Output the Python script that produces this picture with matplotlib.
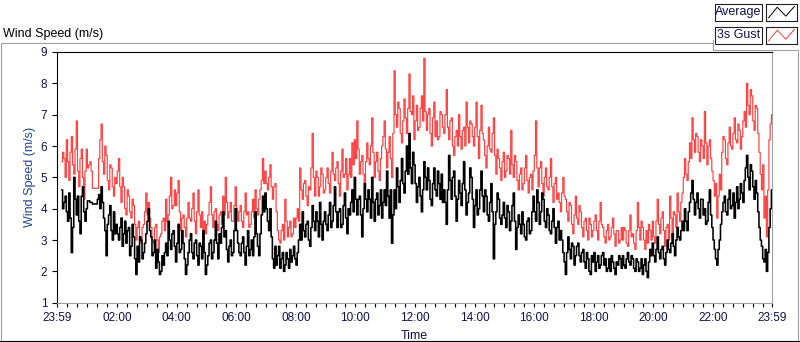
import matplotlib
matplotlib.use("Agg")
import matplotlib.pyplot as plt
from matplotlib.lines import Line2D
from matplotlib.patches import Rectangle
import numpy as np

plt.rcParams['font.family'] = ['Liberation Sans', 'DejaVu Sans']

# --- dados (minutos após 23:59) ---
# pontos a cada 5 min (A) e pontos intermediários +2,5 min (B)
TEMPO_A = np.arange(10, 1441, 5)

MEDIA_A = [
    4.6, 4.2, 3.9, 4.5, 2.6, 5.0, 3.8, 3.6, 4.4, 3.9,
    4.0, 4.25, 4.2, 4.15, 4.15, 4.45, 4.7, 3.7, 2.5, 3.8, 3.3, 3.9,
    3.5, 3.0, 3.7, 3.2, 2.9, 3.4, 2.8, 3.1, 1.9, 2.3, 3.0, 2.6,
    3.2, 4.0, 3.1, 2.6, 2.1, 2.3, 2.0, 2.2, 2.9, 3.6, 2.7, 3.3,
    2.3, 3.5, 2.7, 2.9, 1.9, 2.6, 3.2, 2.4, 3.0, 2.2, 2.8, 3.3,
    1.9, 2.5, 3.0, 2.6, 3.6, 2.4, 2.9, 3.9, 3.3, 2.3, 3.0, 2.6,
    4.0, 2.9, 2.5, 3.1, 2.2, 3.3, 2.7, 2.5, 3.9, 2.8, 3.2, 4.4,
    4.5, 3.6, 4.0, 2.4, 2.8, 2.5, 2.1, 2.6, 2.2, 2.4, 2.7, 2.5,
    2.4, 2.6, 3.5, 3.9, 3.1, 3.6, 2.8, 4.1, 3.3, 3.6, 4.2, 3.0,
    3.9, 3.3, 4.2, 3.6, 4.7, 3.4, 4.0, 3.5, 4.5, 3.2, 3.8, 4.6,
    5.0, 3.8, 4.4, 3.1, 4.8, 3.9, 4.3, 5.0, 3.6, 4.5, 4.1, 3.7,
    4.6, 5.2, 3.7, 2.9, 4.6, 5.3, 4.2, 5.6, 4.5, 6.0, 6.4, 4.8,
    5.4, 4.2, 5.0, 3.9, 5.5, 4.6, 4.9, 4.1, 5.3, 4.4, 4.8, 5.1,
    4.6, 3.5, 5.7, 4.3, 5.2, 3.6, 4.9, 4.1, 5.5, 3.8, 4.5, 5.0,
    3.4, 4.6, 4.0, 5.2, 3.9, 4.4, 3.6, 4.8, 2.4, 3.9, 4.3, 3.5,
    4.2, 3.4, 3.9, 3.6, 4.5, 2.7, 3.8, 3.2, 3.5, 3.0, 3.7, 3.3,
    4.4, 3.6, 4.2, 3.9, 4.3, 3.4, 3.8, 3.2, 4.0, 2.9, 3.6, 3.3,
    2.6, 1.9, 3.1, 2.4, 2.8, 2.5, 2.9, 2.3, 2.7, 2.1, 2.4, 1.9,
    2.3, 2.0, 2.5, 2.2, 2.6, 2.4, 2.1, 2.0, 2.3, 1.9, 2.2, 2.4,
    2.5, 2.1, 2.6, 2.2, 2.4, 2.0, 2.3, 2.1, 1.9, 2.4, 1.8, 2.7,
    2.9, 2.3, 3.1, 2.4, 2.8, 2.2, 3.0, 2.6, 3.2, 2.5, 3.4, 3.0,
    3.6, 4.0, 3.3, 4.2, 4.9, 3.8, 4.5, 3.7, 4.3, 4.0, 3.6, 4.6,
    3.4, 2.7, 2.2, 3.0, 3.9, 4.4, 3.8, 4.6, 4.1, 3.7, 4.7, 4.3,
    4.5, 4.9, 5.7, 4.6, 5.2, 4.3, 4.5, 3.4, 2.8, 2.3, 2.0, 3.4, 4.6,
]

MEDIA_B = [
    4.0, 4.4, 3.6, 3.7, 3.4, 4.3, 4.4, 3.2, 4.7, 3.6,
    4.25, 4.2, 4.15, 4.15, 4.3, 4.0, 4.2, 3.3, 3.5, 4.1, 3.0, 3.2,
    3.2, 3.4, 2.8, 3.6, 3.3, 2.5, 3.5, 2.4, 2.8, 3.1, 2.4, 2.9,
    3.6, 3.3, 2.5, 3.0, 2.7, 1.9, 2.5, 2.6, 2.5, 3.0, 3.2, 2.8,
    2.9, 2.6, 3.3, 2.4, 2.2, 3.0, 2.6, 2.9, 2.5, 2.9, 2.4, 2.6,
    2.2, 2.9, 2.4, 3.0, 2.9, 3.2, 3.4, 3.1, 2.7, 2.8, 2.5, 3.3,
    3.3, 2.6, 2.9, 2.6, 2.8, 2.5, 3.0, 3.1, 3.2, 2.5, 3.8, 3.9,
    4.0, 3.3, 3.1, 2.1, 2.2, 2.8, 2.4, 2.0, 2.6, 2.1, 2.3, 2.8,
    2.2, 3.0, 3.0, 3.3, 3.5, 3.0, 3.4, 3.6, 3.9, 3.1, 3.5, 3.6,
    3.5, 3.8, 3.4, 4.1, 3.9, 3.9, 3.4, 4.1, 3.7, 4.0, 4.2, 3.9,
    4.3, 4.3, 3.8, 4.0, 4.3, 4.6, 3.7, 4.2, 4.3, 3.8, 4.6, 4.2,
    4.1, 4.4, 4.6, 3.8, 4.0, 4.7, 4.9, 4.8, 5.2, 5.1, 5.3, 5.8,
    4.8, 4.7, 4.4, 4.6, 5.0, 5.3, 4.3, 4.8, 4.6, 5.2, 4.3, 4.2,
    4.2, 4.6, 4.9, 5.0, 4.4, 4.3, 4.5, 4.8, 4.6, 4.2, 5.3, 4.3,
    4.1, 3.8, 4.6, 4.4, 4.6, 3.8, 4.2, 3.9, 3.5, 4.5, 3.7, 3.8,
    3.7, 4.1, 3.3, 4.1, 3.6, 3.4, 3.5, 3.9, 3.1, 3.6, 3.2, 3.9,
    3.9, 4.6, 3.5, 4.5, 3.6, 4.0, 3.3, 3.6, 3.4, 3.4, 3.0, 3.0,
    2.3, 2.6, 2.7, 2.9, 2.2, 2.8, 2.5, 2.6, 2.3, 2.6, 2.0, 2.5,
    2.6, 2.3, 2.1, 2.5, 2.2, 2.0, 2.4, 2.5, 2.1, 2.3, 2.5, 2.1,
    2.2, 2.4, 2.3, 2.5, 2.1, 2.4, 2.0, 2.4, 2.2, 2.0, 2.3, 2.5,
    2.5, 2.7, 2.6, 2.7, 2.4, 2.6, 2.7, 2.9, 2.8, 3.0, 3.1, 3.3,
    3.3, 3.6, 3.9, 4.5, 4.3, 4.2, 4.0, 4.3, 3.8, 3.5, 4.2, 3.8,
    3.0, 2.4, 2.7, 3.5, 4.2, 3.9, 4.3, 4.0, 4.5, 4.2, 4.0, 4.8,
    4.2, 5.3, 5.0, 5.4, 4.7, 4.9, 3.9, 3.0, 2.4, 2.7, 2.6, 4.0,
]

RAJADA_A = [
    5.5, 5.6, 6.2, 4.9, 6.3, 5.1, 6.8, 4.7, 5.9, 4.3,
    5.9, 5.4, 5.2, 4.65, 4.65, 5.6, 6.7, 5.1, 5.7, 4.6, 5.3, 4.4,
    4.8, 5.6, 4.2, 4.7, 3.8, 4.4, 3.7, 4.1, 3.0, 3.6, 2.9, 3.5,
    4.5, 4.2, 3.4, 2.9, 3.5, 2.6, 3.2, 3.7, 4.3, 3.8, 5.0, 4.1,
    4.1, 4.9, 3.3, 3.8, 3.1, 4.2, 3.6, 4.5, 3.2, 4.6, 3.4, 3.0,
    3.2, 3.8, 4.7, 3.4, 4.0, 3.3, 3.9, 4.4, 5.0, 3.7, 4.2, 3.6,
    4.7, 3.6, 4.1, 3.4, 4.5, 3.9, 3.5, 4.3, 4.6, 3.8, 4.6, 5.6,
    5.2, 4.6, 5.4, 4.3, 4.8, 3.3, 2.9, 3.5, 4.3, 3.1, 3.6, 3.2,
    3.4, 4.0, 5.3, 4.3, 4.9, 4.1, 4.6, 6.4, 4.4, 5.0, 4.7, 5.1,
    4.6, 5.3, 4.5, 5.8, 4.9, 5.5, 4.4, 5.9, 5.1, 4.6, 5.6, 6.1,
    6.2, 6.8, 5.1, 5.7, 4.8, 6.1, 5.4, 6.9, 5.0, 5.8, 4.9, 6.0,
    6.8, 5.3, 6.3, 5.0, 8.4, 6.6, 7.2, 6.1, 7.5, 6.4, 8.3, 7.0,
    6.2, 7.3, 6.6, 7.6, 8.8, 6.5, 7.2, 6.0, 7.4, 6.8, 6.3, 7.0,
    6.4, 7.8, 6.2, 6.9, 5.7, 6.5, 7.0, 5.9, 6.6, 7.4, 6.1, 6.7,
    6.0, 7.4, 5.6, 7.3, 6.2, 5.3, 6.6, 5.8, 6.9, 5.1, 5.6, 4.9,
    5.8, 5.2, 5.6, 6.5, 5.0, 5.5, 4.6, 5.3, 4.8, 5.7, 4.5, 5.1,
    5.2, 6.8, 4.7, 5.5, 4.4, 5.3, 4.6, 5.6, 4.2, 5.0, 4.5, 3.9,
    5.0, 4.3, 3.6, 4.1, 3.2, 4.4, 3.5, 3.9, 3.1, 3.7, 3.0, 3.5,
    3.3, 3.8, 3.0, 4.2, 3.4, 2.9, 3.5, 3.1, 3.7, 2.8, 3.3, 3.0,
    3.0, 3.3, 2.8, 3.8, 3.2, 2.7, 4.2, 3.0, 3.4, 2.7, 2.9, 3.3,
    3.6, 2.9, 4.3, 3.2, 3.9, 2.8, 3.5, 4.4, 3.1, 3.8, 4.5, 3.6,
    4.5, 5.6, 4.9, 6.1, 6.9, 5.8, 6.3, 5.5, 6.0, 7.1, 5.4, 6.2,
    5.2, 4.4, 3.7, 5.1, 5.8, 6.2, 5.4, 6.6, 5.9, 6.9, 6.1, 6.5,
    6.3, 7.1, 8.0, 7.0, 7.6, 6.5, 7.2, 5.8, 4.6, 3.7, 3.1, 6.2, 7.0,
]

RAJADA_B = [
    5.8, 5.0, 5.5, 5.8, 5.4, 5.9, 5.2, 5.6, 5.0, 5.2,
    5.3, 5.5, 4.65, 4.65, 4.65, 6.2, 5.5, 6.0, 4.9, 5.4, 4.7, 5.0,
    5.2, 4.7, 5.0, 4.0, 4.6, 3.9, 4.3, 3.5, 3.4, 3.1, 3.4, 3.9,
    3.8, 3.7, 3.0, 3.4, 3.0, 3.1, 3.6, 3.3, 3.6, 4.4, 4.0, 4.6,
    4.5, 3.9, 3.7, 3.4, 3.7, 3.7, 4.0, 3.6, 3.9, 3.8, 3.9, 3.6,
    3.5, 4.2, 3.8, 3.9, 3.5, 3.8, 3.5, 3.8, 4.2, 3.9, 3.6, 4.1,
    4.0, 3.9, 3.6, 3.9, 3.8, 3.4, 3.9, 3.7, 4.0, 4.3, 4.9, 4.8,
    4.8, 5.0, 4.7, 4.7, 3.9, 3.0, 3.3, 3.0, 3.6, 3.4, 3.1, 3.7,
    3.7, 3.6, 4.6, 4.8, 4.4, 4.7, 5.3, 5.0, 5.2, 4.4, 5.3, 4.5,
    5.0, 4.8, 5.2, 5.1, 5.3, 4.8, 5.2, 5.0, 5.6, 5.1, 5.0, 5.4,
    5.6, 5.9, 5.5, 5.1, 5.5, 5.6, 6.0, 5.8, 5.5, 5.2, 5.6, 6.3,
    5.9, 5.8, 5.6, 6.4, 7.0, 7.4, 6.4, 6.8, 6.9, 7.2, 7.1, 7.6,
    6.8, 6.5, 7.2, 6.8, 7.1, 7.0, 6.4, 6.9, 6.3, 6.2, 7.1, 6.6,
    7.0, 6.6, 6.8, 6.0, 6.3, 6.0, 6.3, 6.5, 6.0, 6.6, 6.8, 6.3,
    6.6, 6.3, 6.5, 6.4, 5.7, 6.0, 5.9, 6.4, 5.7, 5.9, 5.3, 5.5,
    5.0, 5.7, 5.1, 5.4, 5.7, 4.9, 5.1, 4.6, 5.3, 4.9, 5.0, 4.6,
    5.7, 5.3, 5.3, 4.8, 5.0, 4.7, 5.0, 4.7, 4.8, 4.3, 4.2, 4.5,
    4.4, 3.9, 4.2, 3.5, 3.8, 3.7, 4.1, 3.4, 3.6, 3.3, 3.7, 3.1,
    3.6, 3.3, 3.6, 3.5, 3.1, 3.3, 3.0, 3.4, 3.2, 3.3, 2.9, 3.4,
    3.4, 2.9, 3.3, 3.1, 2.9, 3.3, 3.4, 3.6, 3.0, 3.3, 3.5, 3.0,
    3.1, 3.6, 3.5, 3.7, 3.3, 3.4, 3.0, 3.7, 3.9, 3.4, 3.9, 4.2,
    5.0, 5.1, 5.5, 5.6, 6.2, 6.4, 5.8, 6.2, 5.6, 6.1, 6.0, 5.6,
    4.9, 4.8, 4.4, 4.6, 6.3, 5.6, 6.1, 6.0, 6.4, 6.2, 6.7, 5.9,
    6.8, 6.6, 7.3, 7.8, 6.8, 7.3, 6.4, 5.1, 5.4, 4.4, 4.6, 6.7,
]

POS_TICKS = [0, 121, 241, 361, 481, 601, 721, 841, 961, 1081, 1201, 1321, 1440]
ROTULOS = ["23:59", "02:00", "04:00", "06:00", "08:00", "10:00", "12:00",
           "14:00", "16:00", "18:00", "20:00", "22:00", "23:59"]

# icone da legenda (zigue-zague)
ICONE_X = [0, 1, 2, 3]
ICONE_Y = [0.2, 0.85, 0.3, 0.9]

W, H = 800, 342
AZUL = '#10104a'
VERMELHO = '#ff4040'
CINZA = '#a0a0a0'


def fx(x):
    return x / W


def fy(y):
    return 1 - y / H


def intercalar(a, b):
    # junta os pontos de 5 em 5 min com os intermediarios
    saida = []
    for i, v in enumerate(a):
        saida.append(v)
        if i < len(b):
            saida.append(b[i])
    return saida


tempo = np.arange(10, 1440.1, 2.5)
media = intercalar(MEDIA_A, MEDIA_B)
rajada = intercalar(RAJADA_A, RAJADA_B)

fig = plt.figure(figsize=(W / 100, H / 100), dpi=100)
fig.patch.set_facecolor('white')

ax = fig.add_axes([fx(57), fy(302.7), (772 - 57) / W, (302.7 - 52) / H])
ax.plot(tempo, rajada, color=VERMELHO, lw=0.85, drawstyle='steps-mid')
ax.plot(tempo, media, color='black', lw=1.15, drawstyle='steps-mid')

ax.set_xlim(0, 1440)
ax.set_ylim(1, 9)
ax.set_yticks(range(1, 10))
ax.set_xticks(POS_TICKS)
ax.set_xticklabels(ROTULOS)
ax.set_xticks(np.arange(21, 1440, 20), minor=True)
ax.tick_params(axis='both', which='both', direction='out', color='black',
               labelsize=8.5, labelcolor=AZUL, width=0.8)
ax.tick_params(axis='x', which='both', length=3, pad=4)
ax.tick_params(axis='y', length=3.5, pad=3.5)

ax.spines['top'].set_color('black')
ax.spines['left'].set_color('black')
ax.spines['bottom'].set_color(CINZA)
ax.spines['right'].set_color(CINZA)
for s in ax.spines.values():
    s.set_linewidth(0.8)

ax.set_xlabel("Time", fontsize=9, color=AZUL, labelpad=4)
ax.set_ylabel("Wind Speed (m/s)", fontsize=9, color='#23468c', labelpad=3)

# titulo do painel
fig.text(fx(3), fy(37), "Wind Speed (m/s)", fontsize=9, color='black',
         ha='left', va='baseline')

# moldura do painel
def linha(xs, ys, cor):
    fig.add_artist(Line2D([fx(v) for v in xs], [fy(v) for v in ys],
                          color=cor, lw=0.8, transform=fig.transFigure))


linha([0.5, 712.5], [42.5, 42.5], CINZA)
linha([712.5, 712.5], [40, 49.5], CINZA)
linha([712.5, 797.5], [49.5, 49.5], CINZA)
linha([797.5, 797.5], [49.5, 341], CINZA)
linha([1, 1], [42.5, 341], CINZA)
linha([0, 800], [341, 341], 'black')

# legenda
for i, (nome, cor) in enumerate([("Average", 'black'), ("3s Gust", VERMELHO)]):
    y0 = 4 + i * 23
    fig.add_artist(Rectangle((fx(715), fy(y0 + 17)), 47 / W, 17 / H,
                             transform=fig.transFigure, facecolor='white',
                             edgecolor='#202020', lw=0.8))
    fig.text(fx(738.5), fy(y0 + 8.5), nome, fontsize=9, color=AZUL,
             ha='center', va='center')
    ic = fig.add_axes([fx(766), fy(y0 + 17), 31 / W, 17 / H])
    ic.plot(ICONE_X, ICONE_Y, color=cor, lw=0.7)
    ic.set_xlim(-0.3, 3.3)
    ic.set_ylim(0, 1.05)
    ic.set_xticks([])
    ic.set_yticks([])
    for s in ic.spines.values():
        s.set_color('#202020')
        s.set_linewidth(0.8)

fig.savefig("out.png", dpi=100)
